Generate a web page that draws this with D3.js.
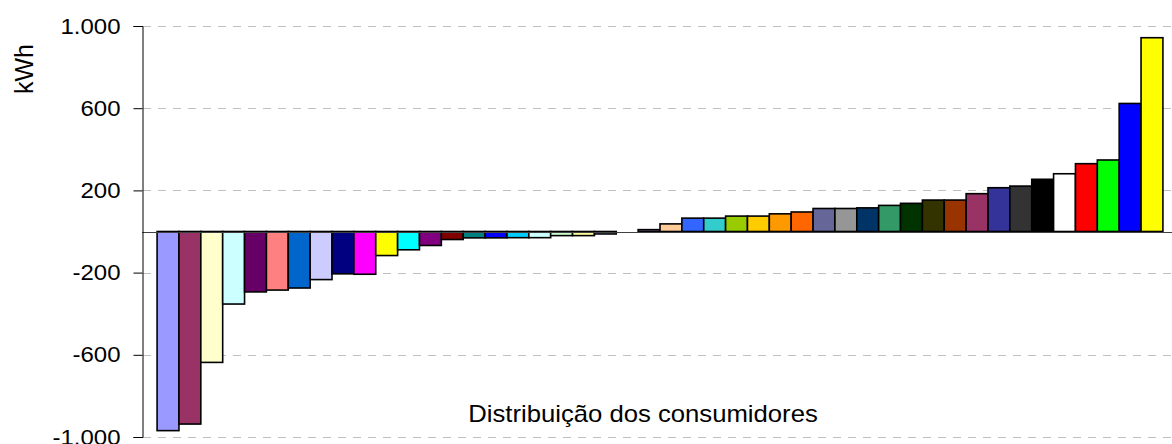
<!DOCTYPE html>
<html>
<head>
<meta charset="utf-8">
<script src="https://cdn.jsdelivr.net/npm/d3@7"></script>
<style>
  body { margin: 0; background: #fff; }
  svg { display: block; font-family: "Liberation Sans", Arial, sans-serif; }
</style>
</head>
<body>
<script>
// consumers sorted by energy balance (kWh)
const consumers = d3.range(1, 47).map(i => "C" + i);
const values = [
  -969, -937, -637, -353, -294, -285, -275, -234, -206, -208,
  -117, -89, -68, -39, -31, -31, -30, -30, -20, -20,
  -12, 0, 9, 37, 65, 65, 75, 75, 86, 95,
  112, 112, 115, 127, 137, 153, 153, 184, 213, 221,
  254, 281, 330, 348, 623, 943
];
const colors = [
  "#9999FF", "#993366", "#FFFFCC", "#CCFFFF", "#660066", "#FF8080", "#0066CC", "#CCCCFF", "#000080", "#FF00FF",
  "#FFFF00", "#00FFFF", "#800080", "#800000", "#008080", "#0000FF", "#00CCFF", "#CCFFFF", "#CCFFCC", "#FFFF99",
  "#99CCFF", "#FF99CC", "#CC99FF", "#FFCC99", "#3366FF", "#33CCCC", "#99CC00", "#FFCC00", "#FF9900", "#FF6600",
  "#666699", "#969696", "#003366", "#339966", "#003300", "#333300", "#993300", "#993366", "#333399", "#333333",
  "#000000", "#FFFFFF", "#FF0000", "#00FF00", "#0000FF", "#FFFF00"
];
const yTicks = [-1000, -600, -200, 200, 600, 1000];

const width = 1172, height = 444;
const left = 142, right = 1178;

const svg = d3.select("body").append("svg")
    .attr("width", width)
    .attr("height", height);

const x = d3.scaleBand()
    .domain(consumers)
    .range([left, right])
    .paddingInner(0)
    .paddingOuter(0.69);

const y = d3.scaleLinear()
    .domain([-1000, 1000])
    .range([437, 26]);

const fmt = d3.formatLocale({decimal: ",", thousands: ".", grouping: [3], currency: ["", ""], minus: "-"}).format(",");

// dashed gridlines
svg.append("g")
    .selectAll("line")
    .data(yTicks)
    .enter().append("line")
    .attr("x1", left + 1)
    .attr("x2", width)
    .attr("y1", d => Math.round(y(d)) + 0.5)
    .attr("y2", d => Math.round(y(d)) + 0.5)
    .attr("stroke", "#c0c0c0")
    .attr("stroke-width", 1)
    .attr("stroke-dasharray", "8,7");

// bars
svg.append("g")
    .selectAll("rect")
    .data(values)
    .enter().append("rect")
    .attr("x", (d, i) => x(consumers[i]))
    .attr("y", d => y(Math.max(0, d)))
    .attr("width", x.bandwidth())
    .attr("height", d => Math.abs(y(d) - y(0)))
    .attr("fill", (d, i) => colors[i])
    .attr("stroke", "#000")
    .attr("stroke-width", 1.6);

// zero line
svg.append("line")
    .attr("x1", left)
    .attr("x2", width)
    .attr("y1", Math.round(y(0)) + 0.5)
    .attr("y2", Math.round(y(0)) + 0.5)
    .attr("stroke", "#404040")
    .attr("stroke-width", 1);

// y axis
const yAxis = svg.append("g")
    .attr("transform", `translate(${left + 0.5},0)`)
    .call(d3.axisLeft(y).tickValues(yTicks).tickFormat(fmt).tickSize(9).tickPadding(13));
yAxis.select(".domain").attr("stroke", "#000");
yAxis.selectAll(".tick line").attr("stroke", "#000");
yAxis.selectAll(".tick text")
    .attr("font-size", 22)
    .attr("font-family", "Liberation Sans, Arial, sans-serif")
    .attr("fill", "#000")
    .attr("x", -22 / 1.09)
    .attr("transform", "scale(1.09,1)");

// axis titles
svg.append("text")
    .attr("transform", "translate(33,69) rotate(-90)")
    .attr("text-anchor", "middle")
    .attr("font-size", 25)
    .text("kWh");

svg.append("text")
    .attr("transform", "translate(643,422) scale(1.07,1)")
    .attr("text-anchor", "middle")
    .attr("font-size", 24)
    .text("Distribuição dos consumidores");
</script>
</body>
</html>
